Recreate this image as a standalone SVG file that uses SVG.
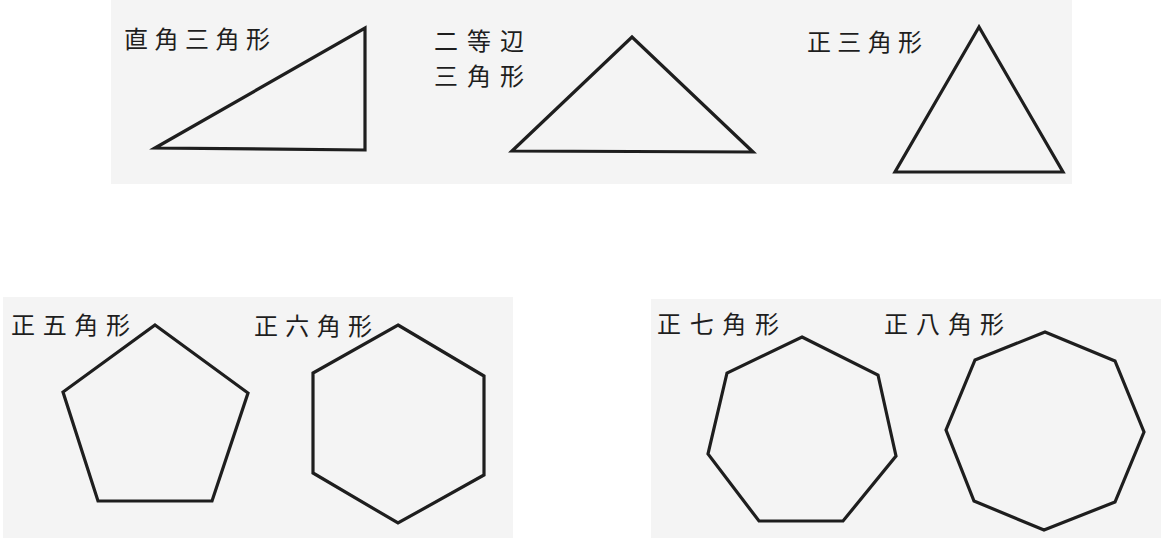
<svg xmlns="http://www.w3.org/2000/svg" width="1161" height="538" viewBox="0 0 1161 538">
<style>
.bg{fill:#f4f4f4;stroke:none}
.shape{fill:none;stroke:#1e1e1e;stroke-width:3.2;stroke-linejoin:miter}
.lbl{font-family:"Noto Sans CJK JP","Noto Sans CJK SC",sans-serif;font-size:24px;fill:#1e1e1e}
</style>
<rect width="1161" height="538" fill="#ffffff"/>
<g id="panels">
<rect class="bg" x="111" y="0" width="961" height="184"/>
<rect class="bg" x="3" y="297" width="510" height="241"/>
<rect class="bg" x="651" y="299" width="510" height="239"/>
</g>
<g id="right-triangle">
<polygon class="shape" points="155,148 365,28 365,150"/>
<text class="lbl" x="124" y="48" textLength="146" lengthAdjust="spacing">直角三角形</text>
</g>
<g id="isosceles-triangle">
<polygon class="shape" points="512,151 632,37 753,152"/>
<text class="lbl" x="434" y="50" textLength="90" lengthAdjust="spacing">二等辺</text>
<text class="lbl" x="434" y="85" textLength="90" lengthAdjust="spacing">三角形</text>
</g>
<g id="equilateral-triangle">
<polygon class="shape" points="979,27 895,172 1063,172"/>
<text class="lbl" x="807" y="51" textLength="115" lengthAdjust="spacing">正三角形</text>
</g>
<g id="pentagon">
<polygon class="shape" points="155,325 248,393 212,501 98,501 63,392"/>
<text class="lbl" x="11" y="334" textLength="119" lengthAdjust="spacing">正五角形</text>
</g>
<g id="hexagon">
<polygon class="shape" points="398,325 484,376 484,475 398,523 313,473 313,373"/>
<text class="lbl" x="254" y="335" textLength="118" lengthAdjust="spacing">正六角形</text>
</g>
<g id="heptagon">
<polygon class="shape" points="802,337 878,375 896,456 843,521 759,521 708,454 727,373"/>
<text class="lbl" x="657" y="333" textLength="122" lengthAdjust="spacing">正七角形</text>
</g>
<g id="octagon">
<polygon class="shape" points="1045,332 1115,361 1144,432 1115,502 1044,530 974,501 946,430 975,360"/>
<text class="lbl" x="884" y="333" textLength="120" lengthAdjust="spacing">正八角形</text>
</g>
<g id="connectors"></g>
</svg>
